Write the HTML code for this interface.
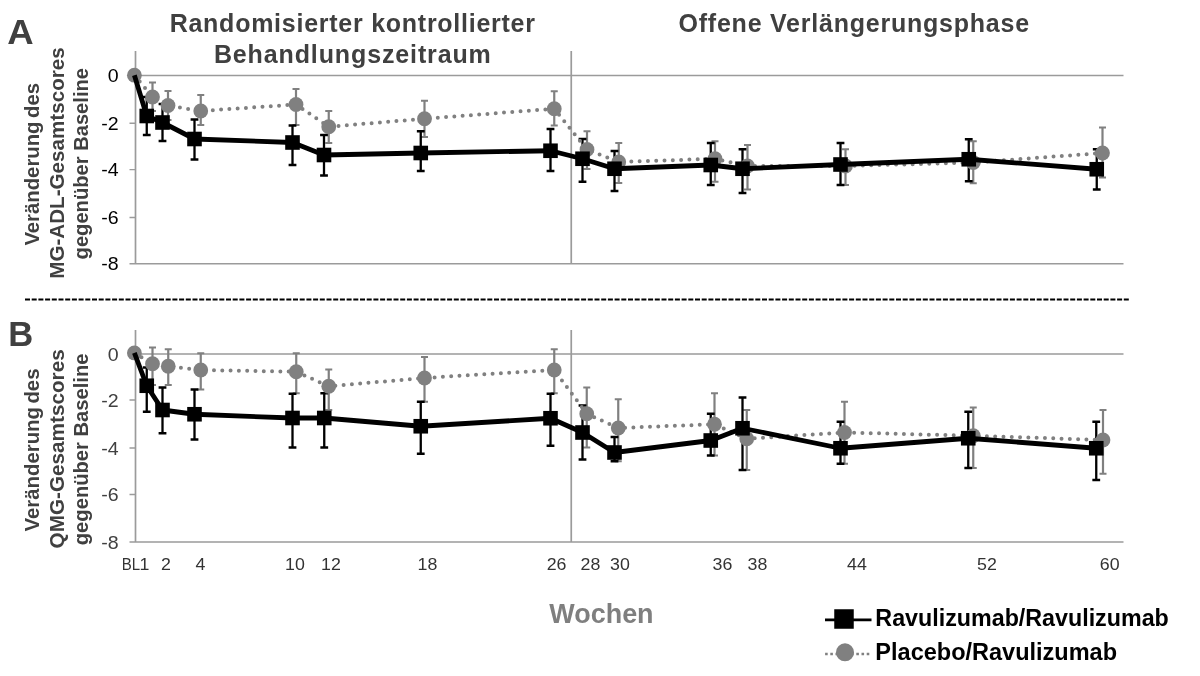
<!DOCTYPE html>
<html lang="de"><head><meta charset="utf-8"><title>Chart</title>
<style>html,body{margin:0;padding:0;background:#fff}svg{display:block}</style></head>
<body>
<svg width="1200" height="676" viewBox="0 0 1200 676" font-family="'Liberation Sans', Arial, sans-serif">
<rect width="1200" height="676" fill="#fff"/>
<g font-weight="bold">
<text x="169.65" y="32" font-size="25" fill="#404040" textLength="365.35" lengthAdjust="spacing">Randomisierter kontrollierter</text>
<text x="213.90" y="63.25" font-size="25" fill="#404040" textLength="276.95" lengthAdjust="spacing">Behandlungszeitraum</text>
<text x="678.50" y="32" font-size="25" fill="#404040" textLength="350.60" lengthAdjust="spacing">Offene Verlängerungsphase</text>
<text transform="translate(39.0 245.60) rotate(-90)" font-size="20.6" fill="#404040" word-spacing="-2.2" textLength="162.60" lengthAdjust="spacingAndGlyphs">Veränderung des</text>
<text transform="translate(63.6 278.80) rotate(-90)" font-size="20.6" fill="#404040" textLength="231.50" lengthAdjust="spacingAndGlyphs">MG-ADL-Gesamtscores</text>
<text transform="translate(87.6 259.40) rotate(-90)" font-size="20.6" fill="#404040" textLength="191.40" lengthAdjust="spacingAndGlyphs">gegenüber Baseline</text>
<text transform="translate(39.3 531.40) rotate(-90)" font-size="20.6" fill="#404040" word-spacing="-2.2" textLength="162.90" lengthAdjust="spacingAndGlyphs">Veränderung des</text>
<text transform="translate(63.5 548.40) rotate(-90)" font-size="20.6" fill="#404040" textLength="199.10" lengthAdjust="spacingAndGlyphs">QMG-Gesamtscores</text>
<text transform="translate(87.5 545.20) rotate(-90)" font-size="20.6" fill="#404040" textLength="191.70" lengthAdjust="spacingAndGlyphs">gegenüber Baseline</text>
<text x="7.24" y="44.0" font-size="35.5" fill="#404040" textLength="26.40" lengthAdjust="spacingAndGlyphs">A</text>
<text x="8.14" y="346.0" font-size="35.5" fill="#404040" textLength="24.96" lengthAdjust="spacingAndGlyphs">B</text>
<text x="549.25" y="622.5" font-size="27" fill="#7f7f7f" textLength="104.35" lengthAdjust="spacingAndGlyphs">Wochen</text>
<text x="875.36" y="625.9" font-size="23" fill="#000" textLength="293.44" lengthAdjust="spacingAndGlyphs">Ravulizumab/Ravulizumab</text>
<text x="875.36" y="660.2" font-size="23" fill="#000" textLength="241.69" lengthAdjust="spacingAndGlyphs">Placebo/Ravulizumab</text>
</g>
<path d="M25 299.6H1129" stroke="#000" stroke-width="2" stroke-dasharray="5 1.7" fill="none"/>
<path d="M135.5 51V263.65M571.25 51V263.65" stroke="#9b9b9b" stroke-width="1.7" fill="none"/>
<path d="M134.9 75.6H1123.5M129.5 263.65H1123.5" stroke="#9b9b9b" stroke-width="1.5" fill="none"/>
<path d="M129.5 123.2H135.5M129.5 169.6H135.5M129.5 217.5H135.5" stroke="#9b9b9b" stroke-width="1.4" fill="none"/>
<text x="107.70" y="82.20" font-size="18.5" fill="#000" textLength="10.9" lengthAdjust="spacingAndGlyphs">0</text>
<text x="101.20" y="129.80" font-size="18.5" fill="#000" textLength="17.4" lengthAdjust="spacingAndGlyphs">-2</text>
<text x="101.20" y="176.20" font-size="18.5" fill="#000" textLength="17.4" lengthAdjust="spacingAndGlyphs">-4</text>
<text x="101.20" y="224.10" font-size="18.5" fill="#000" textLength="17.4" lengthAdjust="spacingAndGlyphs">-6</text>
<text x="101.20" y="270.25" font-size="18.5" fill="#000" textLength="17.4" lengthAdjust="spacingAndGlyphs">-8</text>
<path d="M152.5 82.5V111M149.0 82.5H156.0M149.0 111H156.0M168 91V120M164.5 91H171.5M164.5 120H171.5M200.75 95V125M197.25 95H204.25M197.25 125H204.25M296 89V125M292.5 89H299.5M292.5 125H299.5M328.75 111V143M325.25 111H332.25M325.25 143H332.25M424.5 100.75V137M421.0 100.75H428.0M421.0 137H428.0M554.25 91.25V125.5M550.75 91.25H557.75M550.75 125.5H557.75M587 131.25V169M583.5 131.25H590.5M583.5 169H590.5M618.75 143V183M615.25 143H622.25M615.25 183H622.25M715 141.25V181.75M711.5 141.25H718.5M711.5 181.75H718.5M747.5 145V189.5M744.0 145H751.0M744.0 189.5H751.0M845.5 149.25V185M842.0 149.25H849.0M842.0 185H849.0M973.25 141.25V183.25M969.75 141.25H976.75M969.75 183.25H976.75M1102.5 127.5V177.5M1099.0 127.5H1106.0M1099.0 177.5H1106.0" stroke="#808080" stroke-width="2.2" fill="none"/>
<path d="M146.75 97V135M142.85 97H150.65M142.85 135H150.65M162.5 104V141M158.6 104H166.4M158.6 141H166.4M194.5 119.5V159.5M190.6 119.5H198.4M190.6 159.5H198.4M292.5 125.5V165M288.6 125.5H296.4M288.6 165H296.4M324 135V175.5M320.1 135H327.9M320.1 175.5H327.9M420.75 131.25V171M416.85 131.25H424.65M416.85 171H424.65M550.5 129V171M546.6 129H554.4M546.6 171H554.4M582.5 139V181.75M578.6 139H586.4M578.6 181.75H586.4M614.5 151V191M610.6 151H618.4M610.6 191H618.4M710.75 143V185M706.85 143H714.65M706.85 185H714.65M742.5 149.25V193M738.6 149.25H746.4M738.6 193H746.4M840.5 143V185M836.6 143H844.4M836.6 185H844.4M968.75 139.25V181.25M964.85 139.25H972.65M964.85 181.25H972.65M1096.75 149.25V189.5M1092.85 149.25H1100.65M1092.85 189.5H1100.65" stroke="#000" stroke-width="2.3" fill="none"/>
<polyline points="134.4,75.2 152.5,97 168,105.5 200.75,111 296,104.5 328.75,126.75 424.5,118.75 554.25,108.75 587,149.5 618.75,162 715,158.75 747.5,166 845.5,166 973.25,162.5 1102.5,153" fill="none" stroke="#808080" stroke-width="4" stroke-linecap="round" stroke-dasharray="0 8.3"/>
<circle cx="134.4" cy="75.2" r="7.4" fill="#808080"/>
<circle cx="152.5" cy="97" r="7.4" fill="#808080"/>
<circle cx="168" cy="105.5" r="7.4" fill="#808080"/>
<circle cx="200.75" cy="111" r="7.4" fill="#808080"/>
<circle cx="296" cy="104.5" r="7.4" fill="#808080"/>
<circle cx="328.75" cy="126.75" r="7.4" fill="#808080"/>
<circle cx="424.5" cy="118.75" r="7.4" fill="#808080"/>
<circle cx="554.25" cy="108.75" r="7.4" fill="#808080"/>
<circle cx="587" cy="149.5" r="7.4" fill="#808080"/>
<circle cx="618.75" cy="162" r="7.4" fill="#808080"/>
<circle cx="715" cy="158.75" r="7.4" fill="#808080"/>
<circle cx="747.5" cy="166" r="7.4" fill="#808080"/>
<circle cx="845.5" cy="166" r="7.4" fill="#808080"/>
<circle cx="973.25" cy="162.5" r="7.4" fill="#808080"/>
<circle cx="1102.5" cy="153" r="7.4" fill="#808080"/>
<polyline points="134.4,75.2 146.75,116 162.5,122.5 194.5,139 292.5,142.5 324,155 420.75,153 550.5,150.75 582.5,158.75 614.5,168.75 710.75,165 742.5,168.75 840.5,164.5 968.75,159.25 1096.75,169.25" fill="none" stroke="#000" stroke-width="4.8" stroke-linejoin="round"/>
<rect x="139.45" y="108.7" width="14.6" height="14.6" fill="#000"/>
<rect x="155.2" y="115.2" width="14.6" height="14.6" fill="#000"/>
<rect x="187.2" y="131.7" width="14.6" height="14.6" fill="#000"/>
<rect x="285.2" y="135.2" width="14.6" height="14.6" fill="#000"/>
<rect x="316.7" y="147.7" width="14.6" height="14.6" fill="#000"/>
<rect x="413.45" y="145.7" width="14.6" height="14.6" fill="#000"/>
<rect x="543.2" y="143.45" width="14.6" height="14.6" fill="#000"/>
<rect x="575.2" y="151.45" width="14.6" height="14.6" fill="#000"/>
<rect x="607.2" y="161.45" width="14.6" height="14.6" fill="#000"/>
<rect x="703.45" y="157.7" width="14.6" height="14.6" fill="#000"/>
<rect x="735.2" y="161.45" width="14.6" height="14.6" fill="#000"/>
<rect x="833.2" y="157.2" width="14.6" height="14.6" fill="#000"/>
<rect x="961.45" y="151.95" width="14.6" height="14.6" fill="#000"/>
<rect x="1089.45" y="161.95" width="14.6" height="14.6" fill="#000"/>
<path d="M135.5 330V541.9M571.25 330V541.9" stroke="#9b9b9b" stroke-width="1.7" fill="none"/>
<path d="M134.9 353.9H1123.5M129.5 541.9H1123.5" stroke="#9b9b9b" stroke-width="1.5" fill="none"/>
<path d="M129.5 400H135.5M129.5 448H135.5M129.5 494.5H135.5" stroke="#9b9b9b" stroke-width="1.4" fill="none"/>
<text x="107.70" y="360.50" font-size="18.5" fill="#404040" textLength="10.9" lengthAdjust="spacingAndGlyphs">0</text>
<text x="101.20" y="406.60" font-size="18.5" fill="#404040" textLength="17.4" lengthAdjust="spacingAndGlyphs">-2</text>
<text x="101.20" y="454.60" font-size="18.5" fill="#404040" textLength="17.4" lengthAdjust="spacingAndGlyphs">-4</text>
<text x="101.20" y="501.10" font-size="18.5" fill="#404040" textLength="17.4" lengthAdjust="spacingAndGlyphs">-6</text>
<text x="101.20" y="548.50" font-size="18.5" fill="#404040" textLength="17.4" lengthAdjust="spacingAndGlyphs">-8</text>
<path d="M152.5 347.5V385M149.0 347.5H156.0M149.0 385H156.0M168.25 349.25V385M164.75 349.25H171.75M164.75 385H171.75M200.75 353.25V389.5M197.25 353.25H204.25M197.25 389.5H204.25M296.25 353.25V393.25M292.75 353.25H299.75M292.75 393.25H299.75M328.75 369.5V410M325.25 369.5H332.25M325.25 410H332.25M424.5 357V401.75M421.0 357H428.0M421.0 401.75H428.0M554.25 349.25V393.25M550.75 349.25H557.75M550.75 393.25H557.75M586.75 387.5V447.5M583.25 387.5H590.25M583.25 447.5H590.25M618.25 399.25V461.25M614.75 399.25H621.75M614.75 461.25H621.75M714.5 393.25V455.5M711.0 393.25H718.0M711.0 455.5H718.0M746.75 410V470M743.25 410H750.25M743.25 470H750.25M844.5 401.75V463.75M841.0 401.75H848.0M841.0 463.75H848.0M973.25 407.5V468M969.75 407.5H976.75M969.75 468H976.75M1103 410V473.75M1099.5 410H1106.5M1099.5 473.75H1106.5" stroke="#808080" stroke-width="2.2" fill="none"/>
<path d="M146.75 367.5V411.75M142.85 367.5H150.65M142.85 411.75H150.65M162.5 387.5V433.25M158.6 387.5H166.4M158.6 433.25H166.4M194.5 389.5V439.5M190.6 389.5H198.4M190.6 439.5H198.4M292.5 393.75V447.5M288.6 393.75H296.4M288.6 447.5H296.4M324.25 393.25V447.5M320.35 393.25H328.15M320.35 447.5H328.15M420.75 401.75V453.75M416.85 401.75H424.65M416.85 453.75H424.65M550.5 393.75V445.75M546.6 393.75H554.4M546.6 445.75H554.4M582.5 405.5V459.5M578.6 405.5H586.4M578.6 459.5H586.4M614.5 437V461.25M610.6 437H618.4M610.6 461.25H618.4M710.75 413.75V455.5M706.85 413.75H714.65M706.85 455.5H714.65M742.5 397.5V470M738.6 397.5H746.4M738.6 470H746.4M840.5 421.75V463.75M836.6 421.75H844.4M836.6 463.75H844.4M968.25 411.75V468M964.35 411.75H972.15M964.35 468H972.15M1096.25 421.75V480M1092.35 421.75H1100.15M1092.35 480H1100.15" stroke="#000" stroke-width="2.3" fill="none"/>
<polyline points="134.4,352.9 152.5,363.75 168.25,366.25 200.75,370 296.25,371.75 328.75,386.25 424.5,378 554.25,370 586.75,413.75 618.25,428 714.5,424.25 746.75,438.75 844.5,432.5 973.25,435.75 1103,440" fill="none" stroke="#808080" stroke-width="4" stroke-linecap="round" stroke-dasharray="0 8.3"/>
<circle cx="134.4" cy="352.9" r="7.4" fill="#808080"/>
<circle cx="152.5" cy="363.75" r="7.4" fill="#808080"/>
<circle cx="168.25" cy="366.25" r="7.4" fill="#808080"/>
<circle cx="200.75" cy="370" r="7.4" fill="#808080"/>
<circle cx="296.25" cy="371.75" r="7.4" fill="#808080"/>
<circle cx="328.75" cy="386.25" r="7.4" fill="#808080"/>
<circle cx="424.5" cy="378" r="7.4" fill="#808080"/>
<circle cx="554.25" cy="370" r="7.4" fill="#808080"/>
<circle cx="586.75" cy="413.75" r="7.4" fill="#808080"/>
<circle cx="618.25" cy="428" r="7.4" fill="#808080"/>
<circle cx="714.5" cy="424.25" r="7.4" fill="#808080"/>
<circle cx="746.75" cy="438.75" r="7.4" fill="#808080"/>
<circle cx="844.5" cy="432.5" r="7.4" fill="#808080"/>
<circle cx="973.25" cy="435.75" r="7.4" fill="#808080"/>
<circle cx="1103" cy="440" r="7.4" fill="#808080"/>
<polyline points="134.4,352.9 146.75,385.75 162.5,410 194.5,414.25 292.5,418 324.25,418 420.75,426.25 550.5,418.25 582.5,432.5 614.5,452.5 710.75,440.5 742.5,428.25 840.5,448.25 968.25,438.25 1096.25,448.25" fill="none" stroke="#000" stroke-width="4.8" stroke-linejoin="round"/>
<rect x="139.45" y="378.45" width="14.6" height="14.6" fill="#000"/>
<rect x="155.2" y="402.7" width="14.6" height="14.6" fill="#000"/>
<rect x="187.2" y="406.95" width="14.6" height="14.6" fill="#000"/>
<rect x="285.2" y="410.7" width="14.6" height="14.6" fill="#000"/>
<rect x="316.95" y="410.7" width="14.6" height="14.6" fill="#000"/>
<rect x="413.45" y="418.95" width="14.6" height="14.6" fill="#000"/>
<rect x="543.2" y="410.95" width="14.6" height="14.6" fill="#000"/>
<rect x="575.2" y="425.2" width="14.6" height="14.6" fill="#000"/>
<rect x="607.2" y="445.2" width="14.6" height="14.6" fill="#000"/>
<rect x="703.45" y="433.2" width="14.6" height="14.6" fill="#000"/>
<rect x="735.2" y="420.95" width="14.6" height="14.6" fill="#000"/>
<rect x="833.2" y="440.95" width="14.6" height="14.6" fill="#000"/>
<rect x="960.95" y="430.95" width="14.6" height="14.6" fill="#000"/>
<rect x="1088.95" y="440.95" width="14.6" height="14.6" fill="#000"/>
<g font-size="16.5" fill="#333333">
<text x="121.80" y="569.75" textLength="18.4" lengthAdjust="spacingAndGlyphs">BL</text>
<text x="139.55" y="569.75" textLength="9.9" lengthAdjust="spacingAndGlyphs">1</text>
<text x="161.05" y="569.75" textLength="9.9" lengthAdjust="spacingAndGlyphs">2</text>
<text x="195.45" y="569.75" textLength="9.9" lengthAdjust="spacingAndGlyphs">4</text>
<text x="285.10" y="569.75" textLength="19.8" lengthAdjust="spacingAndGlyphs">10</text>
<text x="321.10" y="569.75" textLength="19.8" lengthAdjust="spacingAndGlyphs">12</text>
<text x="417.60" y="569.75" textLength="19.8" lengthAdjust="spacingAndGlyphs">18</text>
<text x="546.70" y="569.75" textLength="19.8" lengthAdjust="spacingAndGlyphs">26</text>
<text x="580.50" y="569.75" textLength="19.8" lengthAdjust="spacingAndGlyphs">28</text>
<text x="610.10" y="569.75" textLength="19.8" lengthAdjust="spacingAndGlyphs">30</text>
<text x="712.60" y="569.75" textLength="19.8" lengthAdjust="spacingAndGlyphs">36</text>
<text x="747.60" y="569.75" textLength="19.8" lengthAdjust="spacingAndGlyphs">38</text>
<text x="847.10" y="569.75" textLength="19.8" lengthAdjust="spacingAndGlyphs">44</text>
<text x="977.10" y="569.75" textLength="19.8" lengthAdjust="spacingAndGlyphs">52</text>
<text x="1099.85" y="569.75" textLength="19.8" lengthAdjust="spacingAndGlyphs">60</text>
</g>
<path d="M825 619.9H871.5" stroke="#000" stroke-width="2.8"/>
<rect x="834.25" y="609.25" width="19.5" height="19.5" fill="#000"/>
<path d="M825.1 654H871" stroke="#808080" stroke-width="2.6" stroke-dasharray="2.6 2.6"/>
<circle cx="845" cy="652.3" r="9" fill="#808080"/>
</svg>
</body></html>
